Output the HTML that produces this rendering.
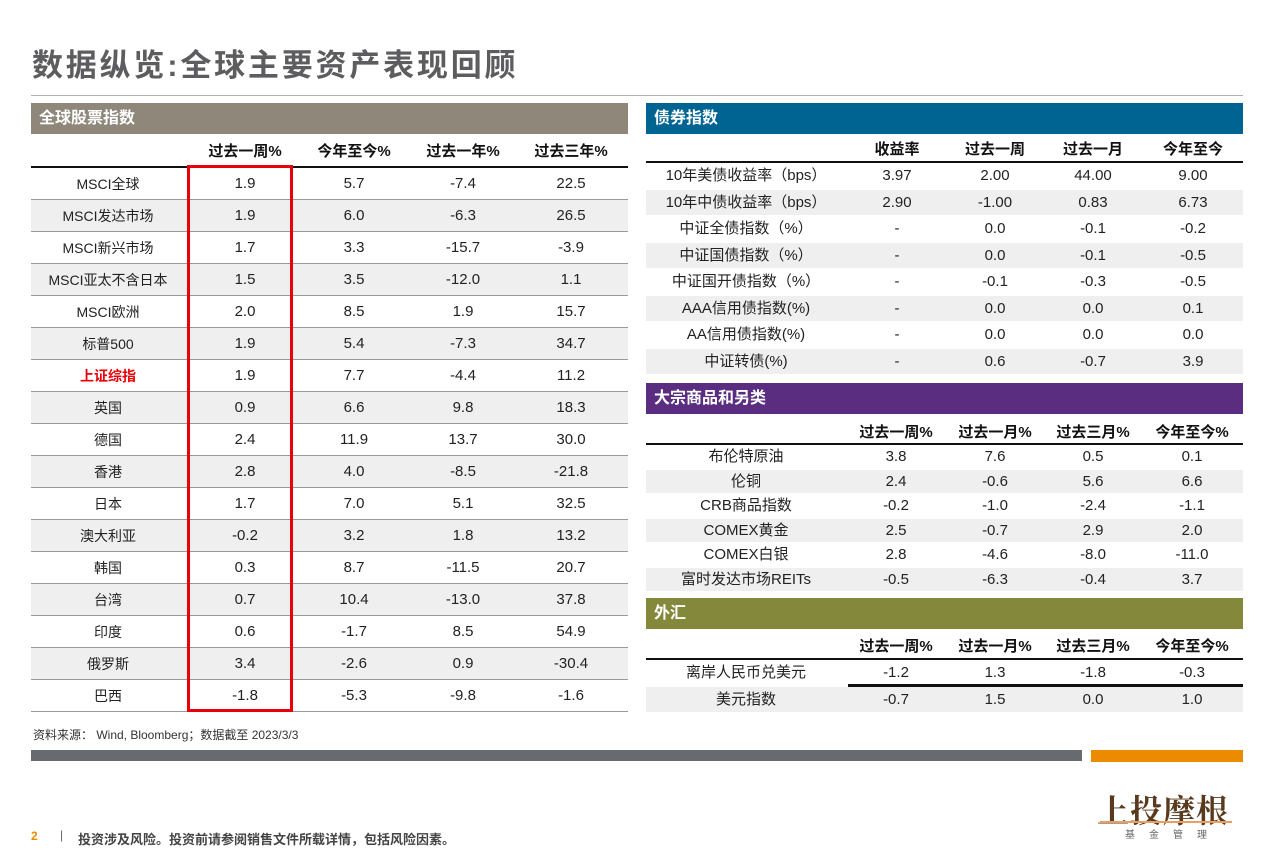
<!DOCTYPE html>
<html><head><meta charset="utf-8">
<style>
body{margin:0;width:1271px;height:856px;position:relative;background:#fff;overflow:hidden;font-family:"Liberation Sans","Noto Sans CJK SC",sans-serif;}
.a{position:absolute;box-sizing:border-box;}
.hd{color:#fff;font-weight:bold;font-size:16px;line-height:31px;padding-left:8px;}
.c{position:absolute;text-align:center;font-size:15px;color:#222;white-space:nowrap;}
.ch{font-weight:bold;font-size:15px;color:#111;}
</style></head><body>
<div class="a" style="left:32px;top:40px;font-size:31px;font-weight:bold;color:#5d5d5f;letter-spacing:2.8px;">数据纵览:全球主要资产表现回顾</div>
<div class="a" style="left:31px;top:95px;width:1212px;height:1px;background:#b0b0b0;"></div>

<div class="a hd" style="left:31px;top:103px;width:597px;height:31px;background:#8f877a;">全球股票指数</div>
<div class="a hd" style="left:646px;top:103px;width:597px;height:31px;background:#006493;">债券指数</div>
<div class="a hd" style="left:646px;top:383px;width:597px;height:31px;background:#5a2d81;">大宗商品和另类</div>
<div class="a hd" style="left:646px;top:598px;width:597px;height:31px;background:#84883a;">外汇</div>

<div class="a" style="left:33px;top:726px;font-size:12px;color:#333;">资料来源： Wind, Bloomberg；数据截至 2023/3/3</div>
<div class="a" style="left:31px;top:750px;width:1051px;height:11px;background:#676a6f;"></div>
<div class="a" style="left:1091px;top:750px;width:152px;height:12px;background:#ec8a00;"></div>
<div class="a" style="left:1097px;top:786px;font-size:32px;font-family:'Noto Serif CJK SC',serif;font-weight:bold;color:#5a3a1e;letter-spacing:1px;">上投摩根</div>
<div class="a" style="left:1100px;top:821px;width:132px;height:2px;background:#e8a060;"></div>
<div class="a" style="left:1125px;top:826px;font-size:10px;color:#666;letter-spacing:14px;">基金管理</div>
<div class="a" style="left:31px;top:829px;font-size:12px;color:#ec8a00;font-weight:bold;">2</div>
<div class="a" style="left:60px;top:828px;font-size:12px;color:#666;">|</div>
<div class="a" style="left:78px;top:829px;font-size:13px;color:#444;font-weight:bold;">投资涉及风险。投资前请参阅销售文件所载详情，包括风险因素。</div>

<script>
const eqCols=["过去一周%","今年至今%","过去一年%","过去三年%"];
const eqNames=["MSCI全球","MSCI发达市场","MSCI新兴市场","MSCI亚太不含日本","MSCI欧洲","标普500","上证综指","英国","德国","香港","日本","澳大利亚","韩国","台湾","印度","俄罗斯","巴西"];
const eqVals=[["1.9","5.7","-7.4","22.5"],["1.9","6.0","-6.3","26.5"],["1.7","3.3","-15.7","-3.9"],["1.5","3.5","-12.0","1.1"],["2.0","8.5","1.9","15.7"],["1.9","5.4","-7.3","34.7"],["1.9","7.7","-4.4","11.2"],["0.9","6.6","9.8","18.3"],["2.4","11.9","13.7","30.0"],["2.8","4.0","-8.5","-21.8"],["1.7","7.0","5.1","32.5"],["-0.2","3.2","1.8","13.2"],["0.3","8.7","-11.5","20.7"],["0.7","10.4","-13.0","37.8"],["0.6","-1.7","8.5","54.9"],["3.4","-2.6","0.9","-30.4"],["-1.8","-5.3","-9.8","-1.6"]];
const bdCols=["收益率","过去一周","过去一月","今年至今"];
const bdNames=["10年美债收益率（bps）","10年中债收益率（bps）","中证全债指数（%）","中证国债指数（%）","中证国开债指数（%）","AAA信用债指数(%)","AA信用债指数(%)","中证转债(%)"];
const bdVals=[["3.97","2.00","44.00","9.00"],["2.90","-1.00","0.83","6.73"],["-","0.0","-0.1","-0.2"],["-","0.0","-0.1","-0.5"],["-","-0.1","-0.3","-0.5"],["-","0.0","0.0","0.1"],["-","0.0","0.0","0.0"],["-","0.6","-0.7","3.9"]];
const cmCols=["过去一周%","过去一月%","过去三月%","今年至今%"];
const cmNames=["布伦特原油","伦铜","CRB商品指数","COMEX黄金","COMEX白银","富时发达市场REITs"];
const cmVals=[["3.8","7.6","0.5","0.1"],["2.4","-0.6","5.6","6.6"],["-0.2","-1.0","-2.4","-1.1"],["2.5","-0.7","2.9","2.0"],["2.8","-4.6","-8.0","-11.0"],["-0.5","-6.3","-0.4","3.7"]];
const fxCols=["过去一周%","过去一月%","过去三月%","今年至今%"];
const fxNames=["离岸人民币兑美元","美元指数"];
const fxVals=[["-1.2","1.3","-1.8","-0.3"],["-0.7","1.5","0.0","1.0"]];

const root=document.body;
function box(x,y,w,h,bg){const d=document.createElement('div');d.className='a';d.style.cssText=`left:${x}px;top:${y}px;width:${w}px;height:${h}px;background:${bg};`;root.appendChild(d);return d;}
function txt(cx,y,h,s,cls){const d=document.createElement('div');d.className='c '+(cls||'');d.textContent=s;d.style.cssText=`left:${cx-100}px;width:200px;top:${y}px;height:${h}px;line-height:${h}px;`;root.appendChild(d);return d;}
function build(key,x0,x1,labelCx,colCx,hdrY,lineY,rowH,cols,names,vals,opts){
  opts=opts||{};
  cols.forEach((c,i)=>{const t=txt(colCx[i],hdrY,24,c,'ch');
    
    });
  const ln=box(x0,lineY,x1-x0,2,'#111');
  
  
  names.forEach((n,r)=>{
    const y=lineY+2+r*rowH;
    if(r%2==1){const b=box(x0,y,x1-x0,rowH-1,'#efefef');
      
      }
    if(opts.sep){const s=box(x0,y+rowH-1,x1-x0,1,'#999');
      
      }
    const l=txt(labelCx,y,rowH,n);
    
    
    if(opts.red&&n==opts.red){l.style.color='#e8000b';l.style.fontWeight='bold';}
    if(opts.lblSize)l.style.fontSize=opts.lblSize+'px';
    vals[r].forEach((v,i)=>{const t=txt(colCx[i],y,rowH,v);
      
      });
  });
}
build('equity',31,628,108,[245,354,463,571],140,166,32,eqCols,eqNames,eqVals,{sep:true,red:'上证综指',lblSize:14});
build('bond',646,1243,746,[897,995,1093,1193],138,161,26.5,bdCols,bdNames,bdVals);
build('commodity',646,1243,746,[896,995,1093,1192],421,443,24.5,cmCols,cmNames,cmVals);
build('fx',646,1243,746,[896,995,1093,1192],635,658,26.5,fxCols,fxNames,fxVals);
const fl=box(848,684,395,3,'#111');


const hb=box(187,165,106,547,'transparent');
hb.style.border='3px solid #e8000b';
hb.style.zIndex='5';


</script>
</body></html>
